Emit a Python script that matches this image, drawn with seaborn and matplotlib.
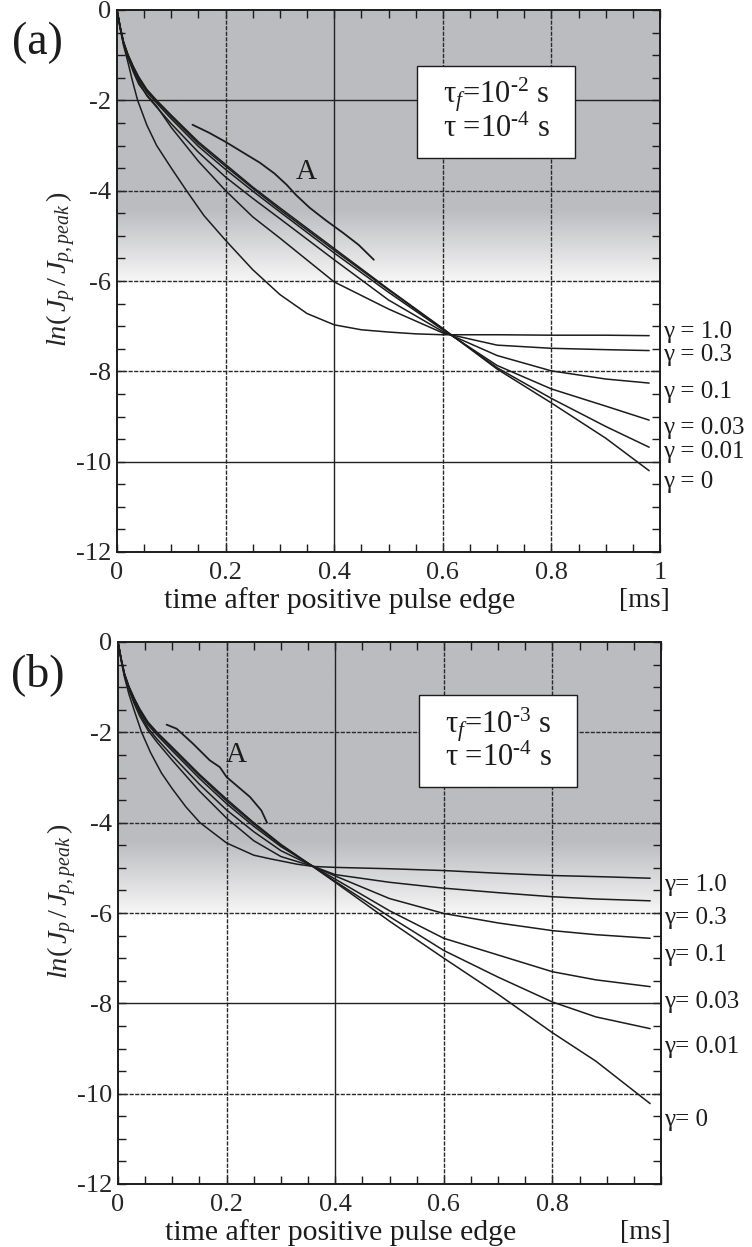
import numpy as np
import pandas as pd
import matplotlib
matplotlib.use("Agg")
import matplotlib.pyplot as plt
import matplotlib.transforms as mtransforms
from matplotlib.patches import Rectangle
from matplotlib.ticker import MultipleLocator, FixedLocator
import seaborn as sns

# ---------------- data ----------------
gamma_labels = ["1.0", "0.3", "0.1", "0.03", "0.01", "0"]

# panel (a): tau_f = 1e-2 s
t_a = [0, 0.006, 0.012, 0.02, 0.03, 0.04, 0.055, 0.073, 0.1, 0.15, 0.2, 0.25,
       0.3, 0.4, 0.5, 0.6, 0.7, 0.8, 0.9, 0.98]
a_g0 = [0, -0.38, -0.7, -0.98, -1.25, -1.48, -1.76, -2.0, -2.33, -2.92, -3.42, -3.92,
        -4.38, -5.28, -6.18, -7.05, -7.95, -8.7, -9.48, -10.2]
a_g001 = [0, -0.38, -0.71, -0.99, -1.26, -1.5, -1.78, -2.02, -2.36, -2.96, -3.46, -3.95,
          -4.42, -5.32, -6.2, -7.06, -7.92, -8.6, -9.22, -9.68]
a_g003 = [0, -0.39, -0.72, -1.0, -1.28, -1.53, -1.82, -2.06, -2.41, -3.02, -3.53, -4.01,
          -4.47, -5.38, -6.25, -7.08, -7.87, -8.39, -8.77, -9.08]
a_g01 = [0, -0.4, -0.73, -1.02, -1.32, -1.58, -1.9, -2.15, -2.52, -3.15, -3.7, -4.17,
         -4.62, -5.53, -6.42, -7.12, -7.65, -7.99, -8.17, -8.26]
a_g03 = [0, -0.41, -0.75, -1.05, -1.37, -1.64, -1.88, -2.13, -2.6, -3.35, -4.0, -4.58,
         -5.05, -6.02, -6.62, -7.15, -7.42, -7.49, -7.52, -7.54]
t_a1 = [0, 0.006, 0.012, 0.02, 0.028, 0.038, 0.055, 0.073, 0.1, 0.128, 0.16, 0.2,
        0.25, 0.3, 0.35, 0.4, 0.45, 0.5, 0.55, 0.6, 0.7, 0.8, 0.9, 0.98]
a_g1 = [0, -0.42, -0.78, -1.15, -1.55, -2.0, -2.55, -3.0, -3.5, -4.0, -4.55, -5.1,
        -5.75, -6.3, -6.72, -6.97, -7.08, -7.13, -7.17, -7.19, -7.19, -7.2, -7.2, -7.21]
tA_a = [0.139, 0.17, 0.2, 0.23, 0.263, 0.29, 0.3125, 0.33, 0.355, 0.385, 0.417, 0.445, 0.473]
A_a = [-2.54, -2.72, -2.92, -3.14, -3.38, -3.62, -3.87, -4.1, -4.38, -4.66, -4.94, -5.2, -5.53]

# panel (b): tau_f = 1e-3 s
t_b = [0, 0.006, 0.012, 0.02, 0.03, 0.04, 0.055, 0.072, 0.1, 0.15, 0.2, 0.25,
       0.3, 0.36, 0.4, 0.5, 0.6, 0.7, 0.8, 0.88, 0.98]
b_g0 = [0, -0.38, -0.7, -0.98, -1.25, -1.48, -1.77, -2.0, -2.33, -2.93, -3.48, -4.0,
        -4.48, -4.98, -5.32, -6.18, -7.0, -7.8, -8.65, -9.28, -10.22]
b_g001 = [0, -0.38, -0.71, -0.99, -1.26, -1.5, -1.79, -2.02, -2.36, -2.96, -3.52, -4.03,
          -4.5, -4.98, -5.3, -6.08, -6.83, -7.42, -7.97, -8.3, -8.56]
b_g003 = [0, -0.39, -0.72, -1.0, -1.28, -1.53, -1.83, -2.06, -2.41, -3.02, -3.58, -4.08,
          -4.53, -4.97, -5.25, -5.95, -6.56, -6.93, -7.3, -7.48, -7.63]
b_g01 = [0, -0.4, -0.73, -1.02, -1.32, -1.58, -1.9, -2.15, -2.52, -3.15, -3.72, -4.2,
         -4.62, -4.97, -5.18, -5.68, -6.01, -6.22, -6.39, -6.48, -6.56]
b_g03 = [0, -0.41, -0.75, -1.05, -1.37, -1.64, -1.95, -2.22, -2.62, -3.3, -3.9, -4.4,
         -4.75, -4.97, -5.15, -5.32, -5.45, -5.55, -5.64, -5.69, -5.73]
t_b1 = [0, 0.006, 0.012, 0.02, 0.03, 0.0435, 0.06, 0.08, 0.1, 0.125, 0.151, 0.2,
        0.25, 0.28, 0.33, 0.36, 0.4, 0.5, 0.6, 0.7, 0.8, 0.9, 0.98]
b_g1 = [0, -0.42, -0.78, -1.15, -1.52, -2.0, -2.45, -2.9, -3.25, -3.65, -4.0, -4.45,
        -4.72, -4.8, -4.92, -4.97, -4.99, -5.02, -5.06, -5.12, -5.17, -5.2, -5.23]
tA_b = [0.0895, 0.108, 0.138, 0.169, 0.1875, 0.2, 0.243, 0.264, 0.2745]
A_b = [-1.83, -1.92, -2.25, -2.62, -2.77, -2.99, -3.43, -3.73, -4.0]

# label y positions of gamma annotations
lab_y_a = [-7.12, -7.64, -8.45, -9.25, -9.78, -10.44]
lab_y_b = [-5.38, -6.10, -6.93, -7.96, -8.96, -10.58]

x_ticks_a = [0, 0.2, 0.4, 0.6, 0.8, 1.0]
x_ticklabels_a = ["0", "0.2", "0.4", "0.6", "0.8", "1"]
x_ticks_b = [0, 0.2, 0.4, 0.6, 0.8]
x_ticklabels_b = ["0", "0.2", "0.4", "0.6", "0.8"]
y_ticks = [0, -2, -4, -6, -8, -10, -12]
y_ticklabels = ["0", "-2", "-4", "-6", "-8", "-10", "-12"]

# ---------------- style ----------------
sns.set_style("ticks")
plt.rcParams["font.family"] = ["Liberation Serif", "DejaVu Serif"]
plt.rcParams["mathtext.fontset"] = "custom"
plt.rcParams["mathtext.rm"] = "Liberation Serif"
plt.rcParams["mathtext.it"] = "Liberation Serif:italic"
plt.rcParams["mathtext.bf"] = "Liberation Serif:bold"
plt.rcParams["axes.unicode_minus"] = False

INK = "#1c1c1c"
GRAY = np.array([187, 188, 192]) / 255.0

fig = plt.figure(figsize=(7.52, 12.47), dpi=100)
axA = fig.add_axes([117 / 752, 1 - 552 / 1247, 543 / 752, 542 / 1247])
axB = fig.add_axes([118 / 752, 1 - 1184 / 1247, 543 / 752, 542 / 1247])


def background(ax):
    yy = np.linspace(0, -12, 1200)
    f = np.clip((yy + 4.4) / (-1.6), 0, 1)
    col = GRAY[None, :] * (1 - f[:, None]) + np.array([0.965, 0.965, 0.965])[None, :] * f[:, None]
    col[yy < -6.0] = 1.0
    ax.imshow(col[:, None, :], extent=[0, 1, -12, 0], aspect="auto", origin="upper",
              zorder=0, interpolation="bilinear")


def grid(ax, dashed_x, solid_x, dashed_y, solid_y):
    for x in dashed_x:
        ax.axvline(x, color="#2a2a2a", lw=1.0, ls=(0, (3, 1)), zorder=1)
    for x in solid_x:
        ax.axvline(x, color="#222222", lw=1.0, zorder=1)
    for y in dashed_y:
        ax.axhline(y, color="#2a2a2a", lw=1.0, ls=(0, (3, 1)), zorder=1)
    for y in solid_y:
        ax.axhline(y, color="#222222", lw=1.0, zorder=1)


def panel(ax, curves, curveA, lab_ys, xt, xtl, tag, tauf, boxpos, Apos, gap):
    background(ax)
    for (tx, ty) in curves:
        df = pd.DataFrame({"t": tx, "v": ty})
        sns.lineplot(data=df, x="t", y="v", ax=ax, color=INK, lw=1.1, sort=False,
                     estimator=None, zorder=3)
    dfA = pd.DataFrame({"t": curveA[0], "v": curveA[1]})
    sns.lineplot(data=dfA, x="t", y="v", ax=ax, color=INK, lw=1.3, sort=False,
                 estimator=None, zorder=3)
    ax.text(Apos[0], Apos[1], "A", fontsize=21, ha="center", va="center", color=INK, zorder=4)

    ax.set_xlim(0, 1)
    ax.set_ylim(-12, 0)
    ax.xaxis.set_major_locator(FixedLocator(xt))
    ax.set_xticklabels(xtl)
    ax.xaxis.set_minor_locator(MultipleLocator(0.05))
    ax.yaxis.set_major_locator(FixedLocator(y_ticks))
    ax.set_yticklabels(y_ticklabels)
    ax.yaxis.set_minor_locator(MultipleLocator(0.5))
    ax.tick_params(which="both", direction="in", top=True, right=True, length=6,
                   width=1.0, color=INK, labelsize=19)
    ax.tick_params(axis="x", pad=7)
    ax.tick_params(axis="y", pad=4)
    for s in ax.spines.values():
        s.set_linewidth(1.4)
        s.set_color(INK)
        s.set_zorder(5)
    ax.set_xlabel("")
    ax.set_ylabel(r"$ln(\,J_p\,/\,J_{p,peak}\,)$", fontsize=20.5)
    ax.yaxis.set_label_coords(-0.072, 0.522)

    trans = mtransforms.blended_transform_factory(ax.transAxes, ax.transData)
    for lab, y in zip(gamma_labels, lab_ys):
        ax.text(1.005, y, "γ" + gap + "= " + lab, transform=trans, fontsize=18,
                ha="left", va="center", clip_on=False, color=INK)

    bx0, by0, bw, bh = boxpos
    ax.add_patch(Rectangle((bx0, by0), bw, bh, facecolor="white", edgecolor=INK,
                           lw=1.0, zorder=4))
    cx = bx0 + bw / 2
    ax.text(cx, by0 + bh * 0.685, r"τ$_{f}$=10$^{\text{-}%d}$ s" % tauf, fontsize=22,
            ha="center", va="center", zorder=5, color=INK)
    ax.text(cx, by0 + bh * 0.31, r"τ =10$^{\text{-}4}$ s", fontsize=22,
            ha="center", va="center", zorder=5, color=INK)

    ax.text(0.41, -0.09, "time after positive pulse edge", transform=ax.transAxes,
            fontsize=21.5, ha="center", va="center", color=INK)
    ax.text(0.972, -0.09, "[ms]", transform=ax.transAxes, fontsize=20,
            ha="center", va="center", color=INK)
    ax.text(-0.147, 0.94, tag, transform=ax.transAxes, fontsize=33,
            ha="center", va="center", color=INK)


panel(axA,
      [(t_a, a_g0), (t_a, a_g001), (t_a, a_g003), (t_a, a_g01), (t_a, a_g03), (t_a1, a_g1)],
      (tA_a, A_a), lab_y_a, x_ticks_a, x_ticklabels_a, "(a)", 2,
      (0.553, -3.28, 0.291, 2.04), (0.349, -3.58), " ")
grid(axA, [0.2, 0.6, 0.8], [0.4], [-4, -6, -8], [-2, -10])
panel(axB,
      [(t_b, b_g0), (t_b, b_g001), (t_b, b_g003), (t_b, b_g01), (t_b, b_g03), (t_b1, b_g1)],
      (tA_b, A_b), lab_y_b, x_ticks_b, x_ticklabels_b, "(b)", 3,
      (0.555, -3.21, 0.291, 2.03), (0.218, -2.5), "")
grid(axB, [0.2, 0.6, 0.8], [0.4], [-2, -4, -6, -10], [-8])

fig.savefig("out.png", dpi=100)
